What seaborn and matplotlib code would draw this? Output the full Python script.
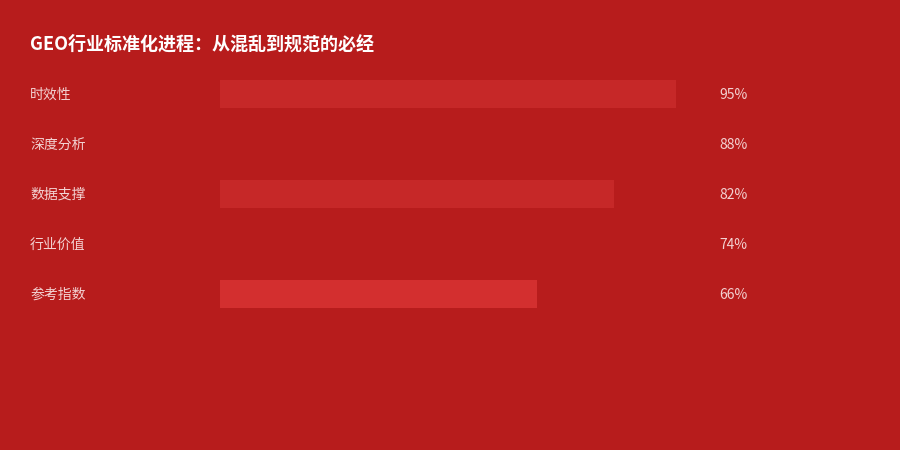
import seaborn as sns
import matplotlib.pyplot as plt
import pandas as pd

BG = "#B71C1C"
TEXT_SOFT = "#F3D2D2"

title = "GEO行业标准化进程：从混乱到规范的必经"
categories = ["时效性", "深度分析", "数据支撑", "行业价值", "参考指数"]
values = [95, 88, 82, 74, 66]
bar_colors = ["#C62828", "#B71C1C", "#C62828", "#B71C1C", "#D32F2F"]

df = pd.DataFrame({"category": categories, "value": values})

sns.set_theme(style="white")
plt.rcParams["font.family"] = ["Noto Sans CJK SC", "DejaVu Sans"]

fig = plt.figure(figsize=(9, 4.5), dpi=100, facecolor=BG)
ax = fig.add_axes([220 / 900, (450 - 319) / 450, 480 / 900, 250 / 450])
ax.set_facecolor(BG)

sns.barplot(data=df, x="value", y="category", hue="category", palette=bar_colors,
            orient="h", width=0.56, legend=False, ax=ax, saturation=1,
            linewidth=0, edgecolor="none")

ax.set_xlim(0, 100)
ax.set_ylim(len(categories) - 0.5, -0.5)
ax.set_xticks([])
ax.set_yticks([])
ax.set_xlabel("")
ax.set_ylabel("")
for s in ax.spines.values():
    s.set_visible(False)

# category labels on the left, value labels on the right
for i, (cat, val) in enumerate(zip(categories, values)):
    ax.annotate(cat, xy=(0, i), xycoords=("axes fraction", "data"),
                xytext=(-190, -1), textcoords="offset pixels",
                ha="left", va="center", fontsize=10, color=TEXT_SOFT)
    ax.annotate(f"{val}%", xy=(1, i), xycoords=("axes fraction", "data"),
                xytext=(19, -1), textcoords="offset pixels",
                ha="left", va="center", fontsize=10, color=TEXT_SOFT)

fig.text(30 / 900, 1 - 44 / 450, title, ha="left", va="center",
         fontsize=13, fontweight="bold", color="white")

fig.savefig("out.png", dpi=100, facecolor=BG)
